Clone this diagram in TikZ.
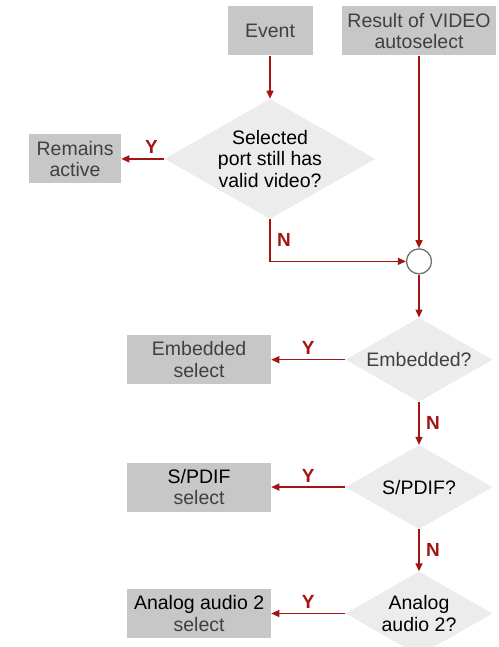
\documentclass[tikz,border=0pt]{standalone}
\usepackage{fontspec}
\setmainfont{Liberation Sans}
\usepackage{xcolor}
\usepackage{tikz}
\usetikzlibrary{shapes.geometric, arrows.meta, positioning}
\definecolor{flowred}{RGB}{163, 21, 21}
\definecolor{boxgray}{RGB}{199, 199, 199}
\definecolor{decgray}{RGB}{236, 236, 236}
\definecolor{textgray}{RGB}{64, 64, 64}
\definecolor{ringgray}{RGB}{112, 112, 112}

\begin{document}
\begin{tikzpicture}[
  x=1pt, y=1pt,
  node distance=43pt,
  box/.style={
    rectangle, fill=boxgray, text=textgray,
    minimum width=144pt, minimum height=49pt,
    inner sep=0pt, align=center,
    font=\fontsize{19.5}{21.7}\selectfont
  },
  decision/.style={
    diamond, fill=decgray, text=black,
    shape aspect=1.75, inner sep=0pt,
    minimum width=147pt, minimum height=84pt,
    align=center, font=\fontsize{19.5}{21.7}\selectfont
  },
  merge/.style={circle, draw=ringgray, line width=1.3pt, fill=white,
    minimum size=25pt, inner sep=0pt},
  arrow/.style={-{Triangle[length=8pt,width=7pt]}, line width=1.4pt, color=flowred},
  lbl/.style={text=flowred, font=\fontsize{19}{19}\selectfont\bfseries}
]
  \useasboundingbox (0,0) rectangle (498,-647);

  % Top nodes
  \node[box, minimum width=85pt] (event) at (270,-31) {Event};
  \node[box, minimum width=154pt] (video) at (419,-31) {Result of VIDEO\\autoselect};

  % First decision
  \node[decision, minimum width=211pt, minimum height=120pt, below=43pt of event] (still)
    {Selected\\port still has\\valid video?};
  \node[box, minimum width=92pt, left=43pt of still] (active) {Remains\\active};
  \node[merge, below=192.5pt of video] (join) {};

  % Audio chain
  \node[decision, text=textgray, below=43pt of join] (emb) {Embedded?};
  \node[box, left=74pt of emb] (embsel) {Embedded\\select};
  \node[decision, below=43pt of emb] (spdif) {S/PDIF?};
  \node[box, left=74pt of spdif] (spdifsel) {{\color{black}S/PDIF}\\select};
  \node[decision, below=42pt of spdif] (analog) {Analog\\audio 2?};
  \node[box, left=74pt of analog] (analogsel) {{\color{black}Analog audio 2}\\select};

  % Arrows
  \draw[arrow] (event)--(still);
  \draw[arrow] (still)--node[lbl, above=1pt, pos=0.3]{Y}(active);
  \draw[arrow] (still) |- node[lbl, right=3pt, pos=0.25]{N}(join);
  \draw[arrow] (video)--(join);
  \draw[arrow] (join)--(emb);
  \draw[arrow] (emb)--node[lbl, above=1pt]{Y}(embsel);
  \draw[arrow] (emb)--node[lbl, right=3pt]{N}(spdif);
  \draw[arrow] (spdif)--node[lbl, above=1pt]{Y}(spdifsel);
  \draw[arrow] (spdif)--node[lbl, right=3pt]{N}(analog);
  \draw[arrow] (analog)--node[lbl, above=1pt]{Y}(analogsel);
\end{tikzpicture}
\end{document}
